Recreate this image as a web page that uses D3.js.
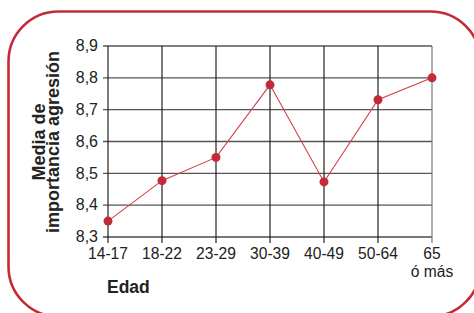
<!DOCTYPE html>
<html><head><meta charset="utf-8">
<script src="https://cdn.jsdelivr.net/npm/d3@7"></script>
<style>
body{margin:0;background:#fff;}
svg{display:block;font-family:"Liberation Sans",Arial,Helvetica,sans-serif;}
</style></head>
<body><svg id="c" width="474" height="313"></svg>
<script>
const categories = ["14-17","18-22","23-29","30-39","40-49","50-64","65"];
const values = [8.35, 8.477, 8.55, 8.778, 8.473, 8.731, 8.80];
const yTicks = [8.3, 8.4, 8.5, 8.6, 8.7, 8.8, 8.9];
const yLabelLines = ["Media de", "importancia agresión"];
const xTitle = "Edad";
const lastSub = "ó más";

const svg = d3.select("#c");
const red = "#c42b38";

svg.append("rect").attr("x",8.5).attr("y",11.5).attr("width",472).attr("height",305)
  .attr("rx",50).attr("ry",50).attr("fill","none").attr("stroke",red).attr("stroke-width",2.6);

const x = d3.scalePoint().domain(categories).range([108,432]);
const y = d3.scaleLinear().domain([8.3,8.9]).range([237,46]);

const g = svg.append("g");
// horizontal grid
g.selectAll(".h").data(yTicks).join("line")
  .attr("x1",103).attr("x2",432).attr("y1",d=>y(d)).attr("y2",d=>y(d))
  .attr("stroke",d=>d===8.3?"#777":"#555").attr("stroke-width",d=>d===8.3?1.8:1.3);
// vertical grid
g.selectAll(".v").data(categories).join("line")
  .attr("x1",d=>x(d)).attr("x2",d=>x(d)).attr("y1",y(8.9)).attr("y2",243)
  .attr("stroke",(d,i)=>i===categories.length-1?"#777":"#222").attr("stroke-width",1.2);

// y tick labels
g.selectAll(".yl").data(yTicks).join("text")
  .attr("x",98).attr("y",d=>y(d)).attr("dy","0.33em").attr("text-anchor","end")
  .attr("font-size",16).attr("fill","#222").text(d=>d3.format(".1f")(d).replace(".",","));
// x tick labels
g.selectAll(".xl").data(categories).join("text")
  .attr("x",d=>x(d)).attr("y",259).attr("text-anchor","middle")
  .attr("font-size",15.6).attr("fill","#222").text(d=>d);
g.append("text").attr("x",x(categories[categories.length-1])).attr("y",277)
  .attr("text-anchor","middle").attr("font-size",15.6).attr("fill","#222").text(lastSub);

// y label
const yl = g.append("text").attr("transform","translate(0,142) rotate(-90)")
  .attr("text-anchor","middle").attr("font-size",18).attr("font-weight","bold").attr("fill","#222");
yl.selectAll("tspan").data(yLabelLines).join("tspan")
  .attr("x",0).attr("y",(d,i)=>i===0?44.5:59).text(d=>d);

g.append("text").attr("x",107).attr("y",293).attr("font-size",17.5).attr("font-weight","bold")
  .attr("fill","#222").text(xTitle);

// line
const line = d3.line().x((d,i)=>x(categories[i])).y(d=>y(d));
g.append("path").datum(values).attr("d",line).attr("fill","none").attr("stroke","#d0404c").attr("stroke-width",1.1);
g.selectAll(".pt").data(values).join("circle")
  .attr("cx",(d,i)=>x(categories[i])).attr("cy",d=>y(d)).attr("r",4.5).attr("fill",red);
</script></body></html>
